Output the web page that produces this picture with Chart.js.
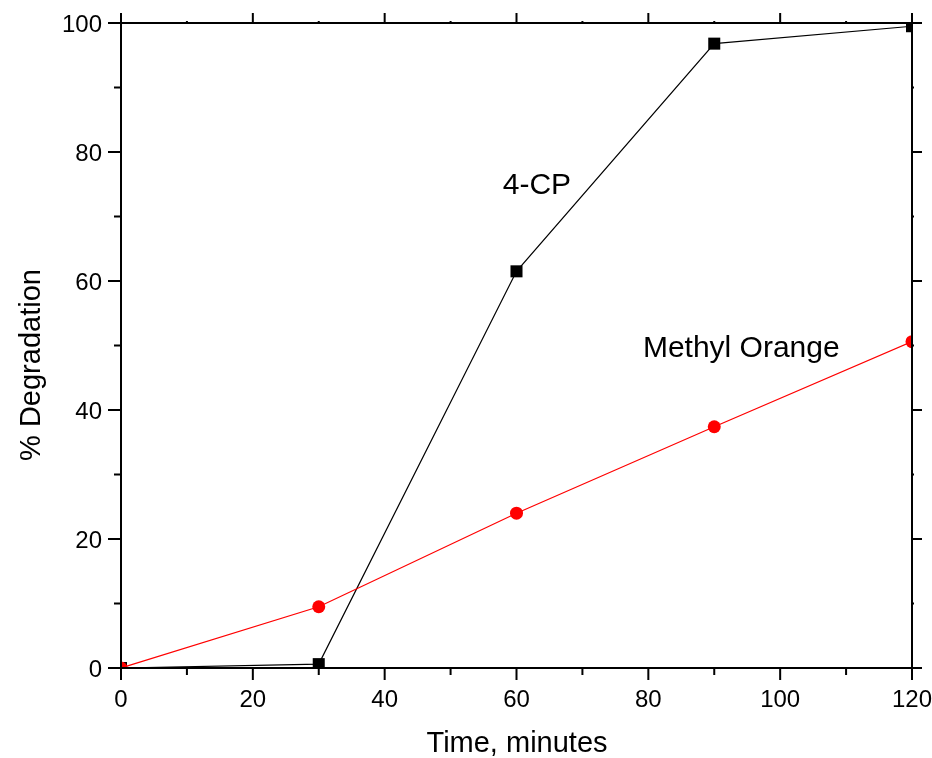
<!DOCTYPE html>
<html lang="en">
<head>
    <meta charset="UTF-8">
    <title>% Degradation vs Time</title>
    <script src="https://cdn.jsdelivr.net/npm/chart.js"></script>
    <style>
        body {
            margin: 0;
            background-color: #fff;
        }
        #wrap {
            width: 932px;
            height: 758px;
        }
    </style>
</head>
<body>
    <div id="wrap"><canvas id="chart" width="932" height="758"></canvas></div>

    <script>
        // Data
        const times = [0, 30, 60, 90, 120];
        const cpValues = [0, 0.6, 61.5, 96.8, 99.5];
        const moValues = [0, 9.5, 24.0, 37.4, 50.6];
        const seriesNames = ['4-CP', 'Methyl Orange'];
        const noteAt = [[63.1, 74.7], [94.1, 49.5]];   // label anchors in data units

        const xTicks = [0, 20, 40, 60, 80, 100, 120];
        const yTicks = [0, 20, 40, 60, 80, 100];
        const FONT = '"Liberation Sans", Arial, sans-serif';

        const toPoints = (vals) => times.map((t, i) => ({ x: t, y: vals[i] }));

        // Frame, ticks on all four sides, tick labels, axis titles and in-plot labels
        const framePlugin = {
            id: 'frame',
            afterDraw(chart) {
                const { ctx, chartArea: a, scales: { x, y } } = chart;
                ctx.save();
                ctx.strokeStyle = '#000';
                ctx.lineWidth = 2;
                ctx.strokeRect(a.left, a.top, a.right - a.left, a.bottom - a.top);

                ctx.beginPath();
                for (let v = 0; v <= 120; v += 10) {
                    const px = x.getPixelForValue(v);
                    const major = v % 20 === 0;
                    ctx.moveTo(px, a.bottom);
                    ctx.lineTo(px, a.bottom + (major ? 12 : 7));
                    ctx.moveTo(px, a.top);
                    ctx.lineTo(px, a.top - (major ? 10 : 2));
                }
                for (let v = 0; v <= 100; v += 10) {
                    const py = y.getPixelForValue(v);
                    const major = v % 20 === 0;
                    ctx.moveTo(a.left, py);
                    ctx.lineTo(a.left - (major ? 13 : 7), py);
                    ctx.moveTo(a.right, py);
                    ctx.lineTo(a.right + (major ? 10 : 2), py);
                }
                ctx.stroke();

                ctx.fillStyle = '#000';
                ctx.font = '24px ' + FONT;
                ctx.textBaseline = 'alphabetic';
                ctx.textAlign = 'center';
                xTicks.forEach(v => ctx.fillText(String(v), x.getPixelForValue(v), 707));
                ctx.textAlign = 'right';
                yTicks.forEach(v => ctx.fillText(String(v), 102, y.getPixelForValue(v) + 8.6));

                ctx.font = '29px ' + FONT;
                ctx.textAlign = 'center';
                ctx.fillText('Time, minutes', 517, 752);

                ctx.save();
                ctx.translate(40, 365);
                ctx.rotate(-Math.PI / 2);
                ctx.fillText('% Degradation', 0, 0);
                ctx.restore();

                ctx.font = '30px ' + FONT;
                ctx.textBaseline = 'middle';
                seriesNames.forEach((name, i) => {
                    ctx.fillText(name, x.getPixelForValue(noteAt[i][0]), y.getPixelForValue(noteAt[i][1]));
                });
                ctx.restore();
            }
        };

        const ctx = document.getElementById('chart').getContext('2d');
        const chart = new Chart(ctx, {
            type: 'line',
            data: {
                datasets: [
                    {
                        label: seriesNames[1],
                        data: toPoints(moValues),
                        borderColor: '#ff0000',
                        backgroundColor: '#ff0000',
                        borderWidth: 1.2,
                        pointStyle: 'circle',
                        pointRadius: 6.5,
                        pointBorderWidth: 0,
                        clip: 0,
                        order: 0
                    },
                    {
                        label: seriesNames[0],
                        data: toPoints(cpValues),
                        borderColor: '#000',
                        backgroundColor: '#000',
                        borderWidth: 1.2,
                        pointStyle: 'rect',
                        pointRadius: 8.5,
                        pointBorderWidth: 0,
                        clip: 0,
                        order: 1
                    }
                ]
            },
            options: {
                responsive: false,
                animation: false,
                events: [],
                layout: { padding: { top: 23, right: 20, left: 0, bottom: 0 } },
                plugins: {
                    legend: { display: false },
                    tooltip: { enabled: false }
                },
                scales: {
                    x: {
                        type: 'linear',
                        min: 0,
                        max: 120,
                        afterFit: (s) => { s.height = 90; },
                        grid: { display: false, drawTicks: false },
                        border: { display: false },
                        ticks: { display: false }
                    },
                    y: {
                        type: 'linear',
                        min: 0,
                        max: 100,
                        afterFit: (s) => { s.width = 121; },
                        grid: { display: false, drawTicks: false },
                        border: { display: false },
                        ticks: { display: false }
                    }
                }
            },
            plugins: [framePlugin]
        });
    </script>
</body>
</html>
